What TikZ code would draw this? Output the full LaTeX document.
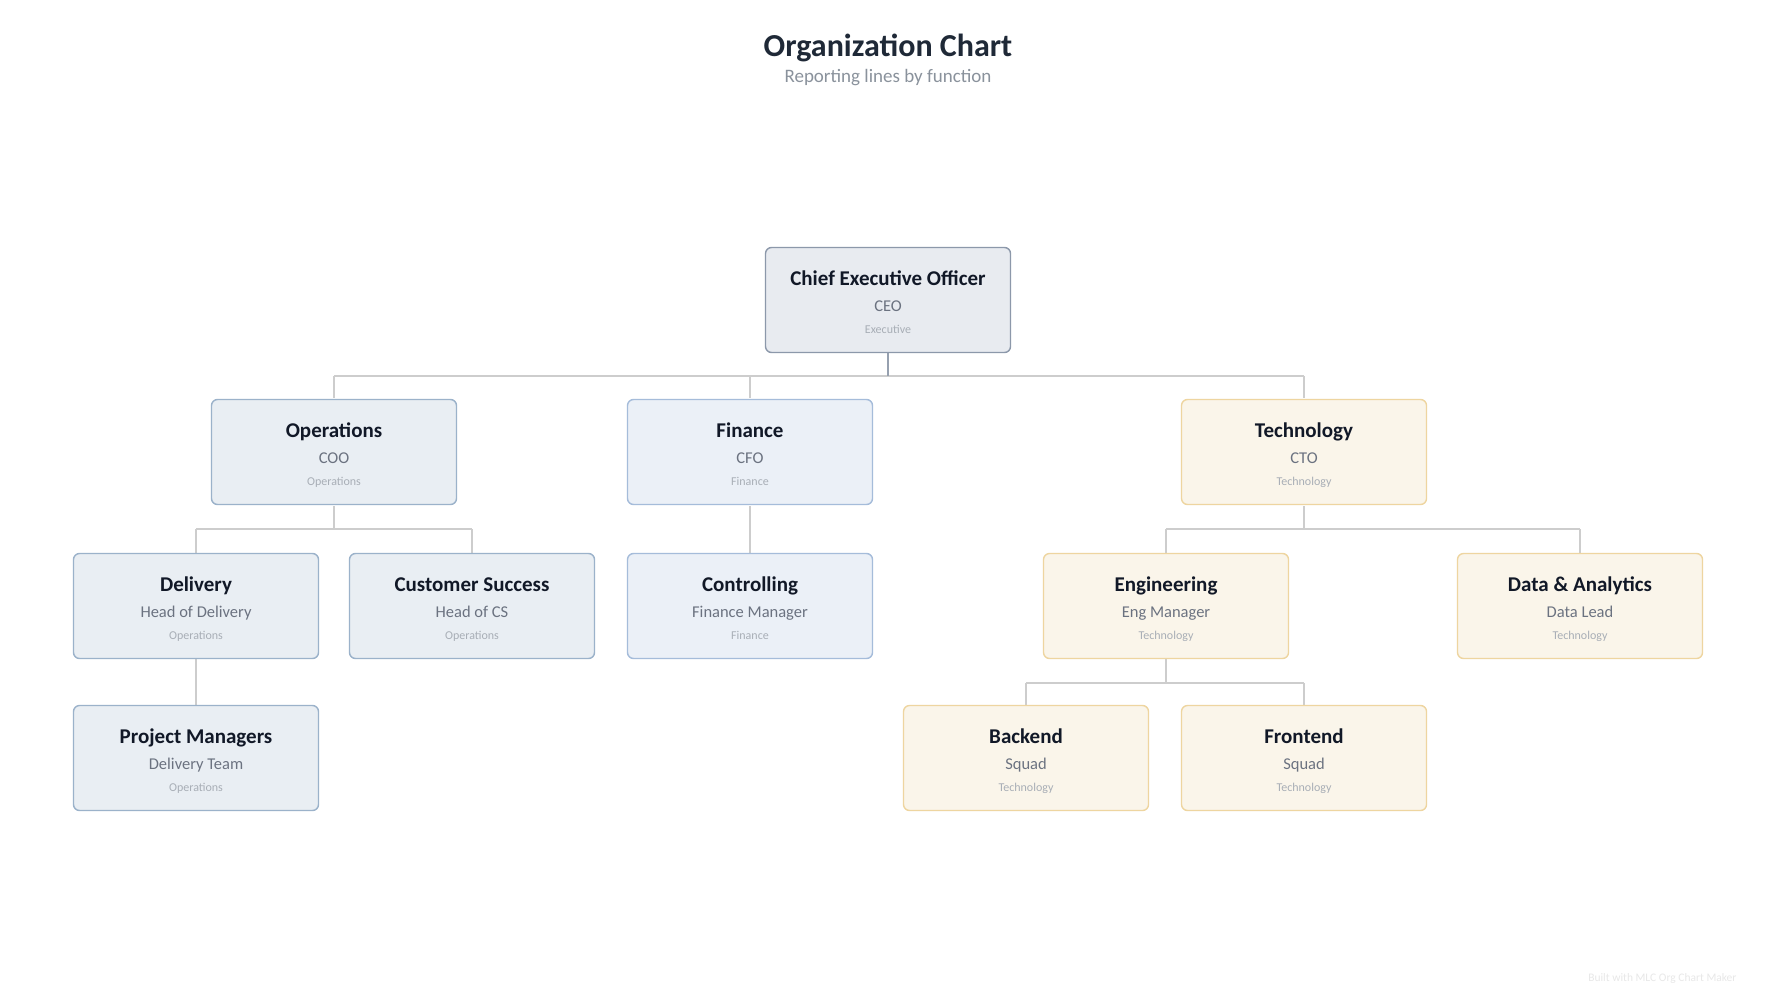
\documentclass[tikz,border=0pt]{standalone}
\usepackage{fontspec}
\setmainfont{Carlito}
\begin{document}
\begin{tikzpicture}[x=1pt,y=-1pt,
  card/.style={rounded corners=6pt,line width=1.4pt,minimum width=245pt,minimum height=105pt,inner sep=0pt},
  exec/.style={card,fill={rgb,255:red,232;green,235;blue,240},draw={rgb,255:red,140;green,152;blue,170}},
  ops/.style={card,fill={rgb,255:red,233;green,238;blue,243},draw={rgb,255:red,155;green,178;blue,202}},
  fin/.style={card,fill={rgb,255:red,235;green,240;blue,247},draw={rgb,255:red,165;green,188;blue,218}},
  tech/.style={card,fill={rgb,255:red,250;green,245;blue,234},draw={rgb,255:red,238;green,213;blue,160}},
  link/.style={draw={rgb,255:red,205;green,205;blue,205},line width=1.2pt},
  ceolink/.style={draw={rgb,255:red,150;green,160;blue,175},line width=1.4pt}]
\fill[white] (0,0) rectangle (1776,998);
\useasboundingbox (0,0) rectangle (1776,998);
\newcommand{\cardtext}[3]{\parbox{240pt}{\centering
  \vspace*{8pt}
  {\fontsize{21}{24}\selectfont\bfseries\color[HTML]{111827}\strut#1\par}
  {\fontsize{16.5}{26}\selectfont\color[HTML]{6B7280}\strut#2\par}
  {\fontsize{12}{20}\selectfont\color[HTML]{A8AEB6}\strut#3\par}}}
\node (title) at (888,48) {\fontsize{32}{36}\selectfont\bfseries\color[HTML]{1F2937}Organization Chart};
\node (sub) at (888,78) {\fontsize{19}{21}\selectfont\color[HTML]{8A929C}Reporting lines by function};
\node[anchor=east] (foot) at (1740,978) {\fontsize{11.5}{13}\selectfont\color[HTML]{E8E8E8}Built with MLC Org Chart Maker};

\coordinate (b1) at (888,376);
\coordinate (b2o) at (334,529);
\coordinate (b2t) at (1304,529);
\coordinate (b3) at (1166,683);

\draw[link] (334,376) -- (1304,376);
\draw[link] (334,376) -- (334,398);
\draw[link] (750,376) -- (750,398);
\draw[link] (1304,376) -- (1304,398);
\draw[link] (334,506) -- (b2o);
\draw[link] (196,529) -- (472,529);
\draw[link] (196,529) -- (196,553);
\draw[link] (472,529) -- (472,553);
\draw[link] (750,506) -- (750,553);
\draw[link] (1304,506) -- (b2t);
\draw[link] (1166,529) -- (1580,529);
\draw[link] (1166,529) -- (1166,553);
\draw[link] (1580,529) -- (1580,553);
\draw[link] (196,659) -- (196,705);
\draw[link] (1166,659) -- (b3);
\draw[link] (1026,683) -- (1304,683);
\draw[link] (1026,683) -- (1026,705);
\draw[link] (1304,683) -- (1304,705);
\draw[ceolink] (888,353) -- (b1);

\node[exec] (ceo) at (888,300) {\cardtext{Chief Executive Officer}{CEO}{Executive}};
\node[ops] (op) at (334,452) {\cardtext{Operations}{COO}{Operations}};
\node[fin] (fi) at (750,452) {\cardtext{Finance}{CFO}{Finance}};
\node[tech] (te) at (1304,452) {\cardtext{Technology}{CTO}{Technology}};
\node[ops] (de) at (196,606) {\cardtext{Delivery}{Head of Delivery}{Operations}};
\node[ops] (cs) at (472,606) {\cardtext{Customer Success}{Head of CS}{Operations}};
\node[fin] (co) at (750,606) {\cardtext{Controlling}{Finance Manager}{Finance}};
\node[tech] (en) at (1166,606) {\cardtext{Engineering}{Eng Manager}{Technology}};
\node[tech] (da) at (1580,606) {\cardtext{Data \& Analytics}{Data Lead}{Technology}};
\node[ops] (pm) at (196,758) {\cardtext{Project Managers}{Delivery Team}{Operations}};
\node[tech] (be) at (1026,758) {\cardtext{Backend}{Squad}{Technology}};
\node[tech] (fe) at (1304,758) {\cardtext{Frontend}{Squad}{Technology}};
\end{tikzpicture}
\end{document}
